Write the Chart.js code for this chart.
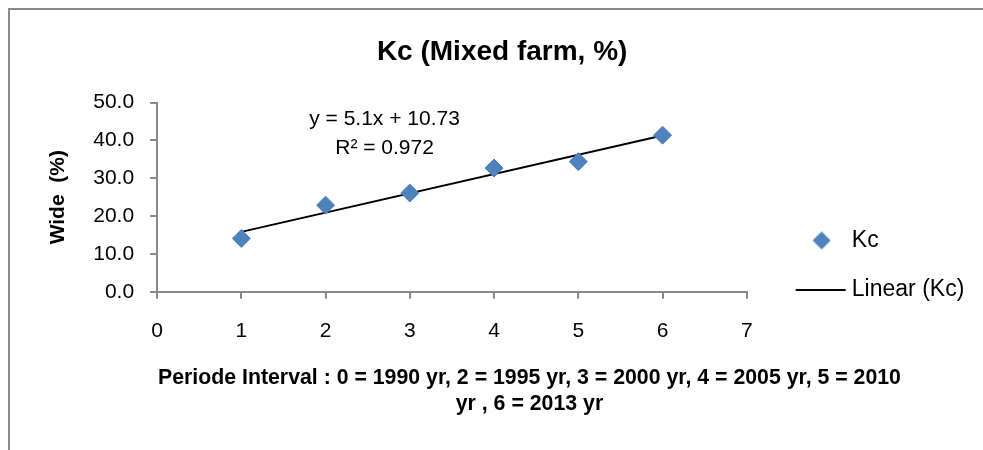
<!DOCTYPE html>
<html>
<head>
<meta charset="utf-8">
<script src="https://cdn.jsdelivr.net/npm/chart.js@4.4.0/dist/chart.umd.min.js"></script>
<style>
  html, body { margin: 0; padding: 0; background: #fff; }
  #wrap { position: relative; width: 983px; height: 450px; overflow: hidden; }
  #frame { position: absolute; left: 8px; top: 8px; right: -10px; bottom: -10px;
           border-top: 2px solid #8a8a8a; border-left: 2px solid #8a8a8a; }
  #kcChart { position: absolute; left: 0; top: 0; }
</style>
</head>
<body>
<div id="wrap">
  <div id="frame"></div>
  <canvas id="kcChart" width="983" height="450"></canvas>
</div>
<script>
// data
var periods = [1, 2, 3, 4, 5, 6];
var kcValues = [14.1, 22.9, 26.1, 32.7, 34.4, 41.4];

// Excel linear trendline, as printed on the chart
var trendSlope = 5.1;
var trendIntercept = 10.73;
var trendText = ['y = 5.1x + 10.73', 'R\u00B2 = 0.972'];

var xTitle = ['Periode Interval : 0 = 1990 yr, 2 = 1995 yr, 3 = 2000 yr, 4 = 2005 yr, 5 = 2010',
              'yr , 6 = 2013 yr'];

var blue = '#4F81BD';
var axisGrey = '#898989';
var fontFam = "'Liberation Sans', Arial, sans-serif";

Chart.defaults.font.family = fontFam;
Chart.defaults.color = '#000';

var trendPoints = [periods[0], periods[periods.length - 1]].map(function (x) {
  return { x: x, y: trendSlope * x + trendIntercept };
});

// legend swatches, drawn off-centre inside a wider transparent canvas
// so they sit where Excel puts them relative to the text
var diamond = document.createElement('canvas');
diamond.width = 60; diamond.height = 20;
var dc = diamond.getContext('2d');
dc.fillStyle = blue;
dc.beginPath();
dc.moveTo(45, 1); dc.lineTo(54, 10); dc.lineTo(45, 19); dc.lineTo(36, 10);
dc.closePath(); dc.fill();

var lineSwatch = document.createElement('canvas');
lineSwatch.width = 80; lineSwatch.height = 2;
var lc = lineSwatch.getContext('2d');
lc.fillStyle = '#000';
lc.fillRect(29, 0, 50, 2);

var extraText = {
  id: 'extraText',
  afterDraw: function (chart) {
    var c = chart.ctx;
    var xs = chart.scales.x, ys = chart.scales.y;
    c.save();
    c.fillStyle = '#000';
    c.textAlign = 'center';
    c.textBaseline = 'alphabetic';
    // trendline equation
    c.font = '21px ' + fontFam;
    var ex = xs.getPixelForValue(2.7);
    c.fillText(trendText[0], ex, ys.getPixelForValue(44.0));
    c.fillText(trendText[1], ex, ys.getPixelForValue(36.4));
    // x axis title (Excel put it off-centre)
    c.font = 'bold 21.3px ' + fontFam;
    var tx = xs.getPixelForValue(4.42);
    var b = chart.chartArea.bottom;
    c.fillText(xTitle[0], tx, b + 91.7);
    c.fillText(xTitle[1], tx, b + 118.3);
    c.restore();
  }
};

var ctx = document.getElementById('kcChart').getContext('2d');
var chart = new Chart(ctx, {
  type: 'scatter',
  data: {
    datasets: [{
      label: 'Kc',
      data: periods.map(function (p, i) { return { x: p, y: kcValues[i] }; }),
      pointStyle: 'rectRot',
      pointRadius: 9,
      pointHoverRadius: 9,
      backgroundColor: blue,
      borderColor: blue,
      borderWidth: 1
    }, {
      label: 'Linear (Kc)',
      type: 'line',
      data: trendPoints,
      borderColor: '#000',
      backgroundColor: '#000',
      borderWidth: 2,
      pointRadius: 0,
      fill: false
    }]
  },
  options: {
    responsive: false,
    animation: false,
    layout: { padding: { left: 30, right: 8.7, top: 0, bottom: 86 } },
    scales: {
      x: {
        type: 'linear',
        position: 'bottom',
        min: 0,
        max: 7,
        ticks: { stepSize: 1, padding: 20, font: { size: 21 }, color: '#000' },
        grid: { drawOnChartArea: false, tickLength: 7, color: axisGrey, lineWidth: 2 },
        border: { color: axisGrey, width: 2 }
      },
      y: {
        min: 0,
        max: 50,
        ticks: {
          stepSize: 10, padding: 16, font: { size: 21 }, color: '#000',
          callback: function (v) { return v.toFixed(1); }
        },
        grid: { drawOnChartArea: false, tickLength: 7, color: axisGrey, lineWidth: 2 },
        border: { color: axisGrey, width: 2 },
        title: {
          display: true,
          text: 'Wide  (%)',
          color: '#000',
          font: { size: 21, weight: 'bold' },
          padding: { top: 16, bottom: 6 }
        }
      }
    },
    plugins: {
      title: {
        display: true,
        text: 'Kc (Mixed farm, %)',
        color: '#000',
        font: { size: 28, weight: 'bold' },
        padding: { top: 35, bottom: 34 }
      },
      legend: {
        position: 'right',
        align: 'center',
        title: { display: true, text: '', padding: 75.8 },
        labels: {
          usePointStyle: true,
          pointStyleWidth: 67.5,
          padding: 26,
          color: '#000',
          font: { size: 23 },
          generateLabels: function (ch) {
            var items = Chart.defaults.plugins.legend.labels.generateLabels(ch);
            items[0].pointStyle = diamond;
            items[1].pointStyle = lineSwatch;
            return items;
          }
        }
      },
      tooltip: { enabled: false }
    }
  },
  plugins: [extraText]
});
</script>
</body>
</html>
